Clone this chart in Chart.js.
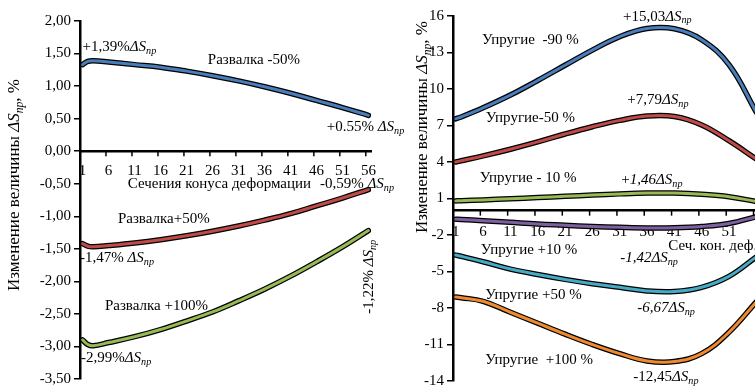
<!DOCTYPE html>
<html>
<head>
<meta charset="utf-8">
<script src="https://cdn.jsdelivr.net/npm/chart.js@4.4.1/dist/chart.umd.min.js"></script>
<style>
body { margin: 0; background: #fff; overflow: hidden; width: 755px; height: 388px; position: relative; }
#wl { position: absolute; left: 0; top: 0; width: 405px; height: 388px; }
#wr { position: absolute; left: 380px; top: 0; width: 390px; height: 388px; }
</style>
</head>
<body>
<div id="wl"><canvas id="cl" width="405" height="388"></canvas></div>
<div id="wr"><canvas id="cr" width="390" height="388"></canvas></div>
<script>
// левый график: развалка, сечения конуса деформации
var secL = [1, 2, 3, 6, 11, 16, 21, 26, 31, 36, 41, 46, 51, 56];
var razvM50  = [1.33, 1.38, 1.39, 1.37, 1.33, 1.29, 1.23, 1.16, 1.08, 0.99, 0.89, 0.78, 0.67, 0.55];
var razvP50  = [-1.42, -1.46, -1.47, -1.45, -1.41, -1.36, -1.30, -1.23, -1.15, -1.06, -0.96, -0.84, -0.72, -0.59];
var razvP100 = [-2.90, -2.97, -2.99, -2.94, -2.85, -2.74, -2.61, -2.47, -2.30, -2.12, -1.92, -1.70, -1.47, -1.22];
var ticksXL = [1, 6, 11, 16, 21, 26, 31, 36, 41, 46, 51, 56];

// правый график: упругие
var secR = [1, 2, 6, 11, 16, 21, 26, 31, 36, 41, 46, 51, 56];
var uprM90  = [7.55, 7.7, 8.45, 9.5, 10.7, 11.95, 13.2, 14.3, 14.98, 14.95, 14.05, 12.0, 8.1];
var uprM50  = [4.0, 4.1, 4.5, 5.05, 5.65, 6.3, 6.9, 7.42, 7.78, 7.74, 7.05, 5.75, 4.25];
var uprM10  = [0.8, 0.82, 0.88, 0.98, 1.08, 1.18, 1.28, 1.38, 1.45, 1.45, 1.35, 1.15, 0.75];
var uprP10  = [-0.7, -0.72, -0.82, -0.96, -1.1, -1.2, -1.3, -1.37, -1.42, -1.41, -1.3, -1.05, -0.5];
var uprP50  = [-3.65, -3.75, -4.2, -4.8, -5.25, -5.65, -6.0, -6.3, -6.6, -6.65, -6.3, -5.4, -3.8];
var uprP100 = [-7.1, -7.15, -7.45, -8.35, -9.25, -10.15, -11.0, -11.75, -12.35, -12.4, -11.75, -10.0, -7.5];
var ticksXR = [1, 6, 11, 16, 21, 26, 31, 36, 41, 46, 51];

var FONT = '"Liberation Serif", "Times New Roman", serif';

function pts(xs, ys) {
    return xs.map(function(x, i) { return {x: x, y: ys[i]}; });
}

// цветная линия поверх чёрной обводки
function lineSets(xs, ys, color) {
    return [
        {data: pts(xs, ys), borderColor: color, borderWidth: 3, order: 0},
        {data: pts(xs, ys), borderColor: '#000', borderWidth: 5.5, order: 1}
    ];
}

function ds(prefix, ital) {
    return [[prefix, ital ? 'i' : ''], ['Δ', 'i'], ['S', 'i'], ['пр', 's']];
}

function richWidth(ctx, parts, size) {
    var w = 0;
    parts.forEach(function(p) {
        var fs = p[1] === 's' ? size * 0.68 : size;
        ctx.font = (p[1] ? 'italic ' : '') + fs + 'px ' + FONT;
        w += ctx.measureText(p[0]).width;
    });
    return w;
}

function drawRich(ctx, parts, x, y, size, rot, center) {
    ctx.save();
    ctx.translate(x, y);
    if (rot) ctx.rotate(rot);
    var cx = center ? -richWidth(ctx, parts, size) / 2 : 0;
    ctx.fillStyle = '#000';
    ctx.textBaseline = 'middle';
    ctx.textAlign = 'left';
    parts.forEach(function(p) {
        var sub = p[1] === 's';
        var fs = sub ? size * 0.68 : size;
        ctx.font = (p[1] ? 'italic ' : '') + fs + 'px ' + FONT;
        ctx.fillText(p[0], cx, sub ? size * 0.28 : 0);
        cx += ctx.measureText(p[0]).width;
    });
    ctx.restore();
}

function notesPlugin(notes, title) {
    return {
        id: 'notes',
        afterDraw: function(chart) {
            var ctx = chart.ctx, sx = chart.scales.x, sy = chart.scales.y;
            // засечки на оси сечений
            var y0 = sy.getPixelForValue(0);
            ctx.save();
            ctx.strokeStyle = '#000';
            ctx.lineWidth = 1.5;
            title.marks.forEach(function(v) {
                var px = sx.getPixelForValue(v);
                ctx.beginPath();
                ctx.moveTo(px, y0);
                ctx.lineTo(px, y0 + 5);
                ctx.stroke();
            });
            ctx.restore();
            notes.forEach(function(n) {
                drawRich(ctx, n.t, sx.getPixelForValue(n.x), sy.getPixelForValue(n.y), 15, n.rot, n.center);
            });
            drawRich(ctx, [['Изменение величины ', ''], ['Δ', 'i'], ['S', 'i'], ['пр', 's'], [', %', '']],
                chart.chartArea.left - title.dx, title.cy, 17, -Math.PI / 2, true);
        }
    };
}

function makeOptions(cfg) {
    return {
        responsive: false,
        animation: false,
        layout: {padding: cfg.pad},
        plugins: {legend: {display: false}, tooltip: {enabled: false}},
        elements: {point: {radius: 0}, line: {tension: 0.4, borderCapStyle: 'round', fill: false}},
        scales: {
            x: {
                type: 'linear', min: 0.5, max: 56.5, position: {y: 0},
                afterBuildTicks: function(s) { s.ticks = cfg.xt.map(function(v) { return {value: v}; }); },
                afterFit: function(s) { s.paddingLeft = 0; s.paddingRight = 0; },
                grid: {display: false, drawTicks: false},
                border: {display: true, color: '#000', width: 2.5},
                ticks: {autoSkip: false, maxRotation: 0, padding: cfg.xpad, color: '#000', font: {family: FONT, size: 15}}
            },
            y: {
                min: cfg.ymin, max: cfg.ymax,
                ticks: {stepSize: cfg.step, callback: cfg.fmt, color: '#000', padding: 3, font: {family: FONT, size: 15}},
                grid: {drawOnChartArea: false, tickLength: 6, color: '#000', lineWidth: 1.5},
                border: {color: '#000', width: 2.5},
                afterFit: function(s) { s.width = cfg.yw; s.paddingTop = 0; s.paddingBottom = 0; }
            }
        }
    };
}

var marks = ticksXL.slice(1).map(function(v) { return v - 0.5; });

new Chart(document.getElementById('cl'), {
    type: 'line',
    data: {
        datasets: [].concat(
            lineSets(secL, razvM50, '#4A7EBB'),
            lineSets(secL, razvP50, '#BE4B48'),
            lineSets(secL, razvP100, '#98B954'))
    },
    options: makeOptions({
        pad: {left: 0, right: 34, top: 21, bottom: 9},
        xt: ticksXL, xpad: 11, yw: 80,
        ymin: -3.5, ymax: 2, step: 0.5,
        fmt: function(v) { return v.toFixed(2).replace('.', ','); }
    }),
    plugins: [notesPlugin([
        {x: 1.0, y: 1.6, t: ds('+1,39%')},
        {x: 25.1, y: 1.4, t: [['Развалка -50%', '']]},
        {x: 48, y: 0.37, t: ds('+0.55% ')},
        {x: 9.7, y: -0.51, t: [['Сечения конуса деформации', '']]},
        {x: 46.7, y: -0.51, t: ds('-0,59% ')},
        {x: 7.8, y: -1.04, t: [['Развалка+50%', '']]},
        {x: 0.5, y: -1.64, t: ds('-1,47% ')},
        {x: 56.2, y: -1.93, t: ds('-1,22% '), rot: -Math.PI / 2, center: true},
        {x: 5.3, y: -2.38, t: [['Развалка +100%', '']]},
        {x: 0.7, y: -3.18, t: ds('-2,99%')}
    ], {marks: marks, dx: 65, cy: 185})]
});

new Chart(document.getElementById('cr'), {
    type: 'line',
    data: {
        datasets: [].concat(
            lineSets(secR, uprM90, '#4A7EBB'),
            lineSets(secR, uprM50, '#BE4B48'),
            lineSets(secR, uprM10, '#98B954'),
            lineSets(secR, uprP10, '#7D60A0'),
            lineSets(secR, uprP50, '#46AAC5'),
            lineSets(secR, uprP100, '#F08A30'))
    },
    options: makeOptions({
        pad: {left: 0, right: 11, top: 16, bottom: 7},
        xt: ticksXR, xpad: 12, yw: 73,
        ymin: -14, ymax: 16, step: 3,
        fmt: function(v) { return String(v); }
    }),
    plugins: [notesPlugin([
        {x: 5.8, y: 14.0, t: [['Упругие  -90 %', '']]},
        {x: 31.6, y: 15.95, t: ds('+15,03')},
        {x: 32.4, y: 9.08, t: ds('+7,79')},
        {x: 6.5, y: 7.6, t: [['Упругие-50 %', '']]},
        {x: 5.4, y: 2.67, t: [['Упругие - 10 %', '']]},
        {x: 31.3, y: 2.5, t: [['+', ''], ['1,46', 'i'], ['Δ', 'i'], ['S', 'i'], ['пр', 's']]},
        {x: 5.6, y: -3.24, t: [['Упругие +10 %', '']]},
        {x: 39.9, y: -2.9, t: [['Сеч. кон. деф.', '']]},
        {x: 31.1, y: -3.9, t: ds('-1,42', true)},
        {x: 6.4, y: -6.94, t: [['Упругие +50 %', '']]},
        {x: 34.2, y: -8.0, t: ds('-6,67', true)},
        {x: 6.4, y: -12.28, t: [['Упругие  +100 %', '']]},
        {x: 33.5, y: -13.67, t: ds('-12,45')}
    ], {marks: marks, dx: 30, cy: 127})]
});
</script>
</body>
</html>
